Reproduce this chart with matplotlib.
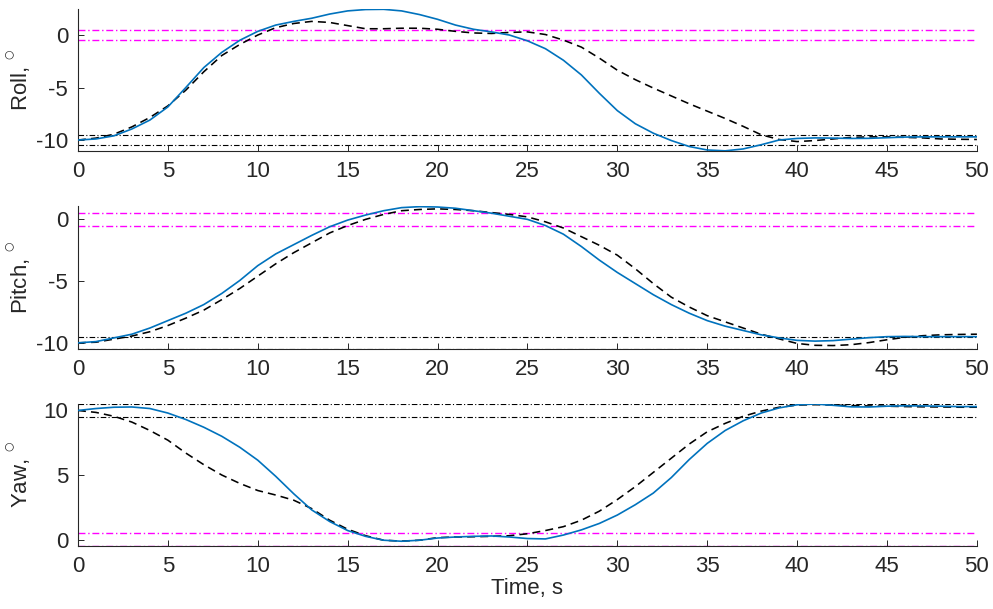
import numpy as np
import matplotlib
matplotlib.use('Agg')
import matplotlib.pyplot as plt

plt.rcParams['font.family'] = ['Liberation Sans', 'DejaVu Sans']
plt.rcParams['mathtext.fontset'] = 'dejavusans'
plt.rcParams['axes.unicode_minus'] = False

# time samples, s
t = np.arange(0, 51)

# roll, deg
roll_act = [-10.0, -9.9, -9.6, -8.95, -8.1, -6.85, -5.0, -3.1, -1.65, -0.5, 0.35, 0.95, 1.3, 1.6, 2.0, 2.3,
            2.43, 2.45, 2.3, 1.95, 1.5, 0.95, 0.55, 0.3, 0.0, -0.55, -1.3, -2.4, -3.8, -5.55, -7.2, -8.45,
            -9.35, -10.05, -10.62, -10.95, -11.03, -10.85, -10.45, -10.0, -9.85, -9.8, -9.82, -9.85, -9.84,
            -9.78, -9.72, -9.7, -9.7, -9.7, -9.7]
roll_ref = [-10.0, -9.82, -9.45, -8.75, -7.85, -6.75, -5.25, -3.5, -1.95, -0.9, 0.0, 0.7, 1.1, 1.3, 1.2, 0.9,
            0.6, 0.6, 0.65, 0.65, 0.55, 0.35, 0.2, 0.15, 0.25, 0.3, 0.05, -0.48, -1.15, -2.2, -3.35, -4.25,
            -5.05, -5.8, -6.55, -7.25, -7.95, -8.7, -9.5, -9.95, -10.15, -10.05, -9.9, -9.75, -9.7, -9.7,
            -9.75, -9.8, -9.9, -9.93, -9.95]

# pitch, deg
pitch_act = [-10.0, -9.9, -9.6, -9.3, -8.8, -8.2, -7.6, -6.9, -6.0, -4.95, -3.75, -2.8, -2.05, -1.3, -0.6,
             -0.06, 0.35, 0.7, 0.95, 1.03, 1.0, 0.9, 0.7, 0.5, 0.25, 0.0, -0.5, -1.2, -2.2, -3.3, -4.3,
             -5.2, -6.1, -6.9, -7.6, -8.2, -8.65, -9.0, -9.35, -9.6, -9.8, -9.86, -9.82, -9.7, -9.58,
             -9.5, -9.48, -9.5, -9.5, -9.5, -9.5]
pitch_ref = [-10.0, -9.95, -9.7, -9.45, -9.1, -8.6, -8.0, -7.35, -6.5, -5.6, -4.6, -3.6, -2.7, -1.9, -1.1,
             -0.5, 0.0, 0.4, 0.7, 0.8, 0.85, 0.8, 0.7, 0.55, 0.4, 0.2, -0.2, -0.7, -1.4, -2.1, -2.9,
             -4.0, -5.2, -6.3, -7.1, -7.8, -8.3, -8.8, -9.3, -9.68, -10.05, -10.2, -10.22, -10.15, -9.98,
             -9.75, -9.55, -9.42, -9.35, -9.32, -9.3]

# yaw, deg
yaw_act = [10.0, 10.15, 10.25, 10.27, 10.15, 9.8, 9.3, 8.7, 8.0, 7.15, 6.15, 4.9, 3.55, 2.3, 1.4, 0.7,
           0.25, -0.05, -0.13, -0.05, 0.12, 0.2, 0.25, 0.28, 0.2, 0.08, 0.05, 0.35, 0.75, 1.25, 1.9,
           2.7, 3.6, 4.8, 6.2, 7.45, 8.45, 9.2, 9.8, 10.2, 10.44, 10.5, 10.4, 10.28, 10.27, 10.33,
           10.36, 10.35, 10.33, 10.3, 10.3]
yaw_ref = [10.0, 9.85, 9.55, 9.1, 8.45, 7.7, 6.7, 5.8, 5.0, 4.35, 3.8, 3.45, 3.05, 2.4, 1.5, 0.8,
           0.3, -0.05, -0.12, -0.05, 0.15, 0.2, 0.22, 0.25, 0.3, 0.45, 0.7, 1.0, 1.5, 2.2, 3.1,
           4.1, 5.2, 6.3, 7.4, 8.35, 9.0, 9.55, 9.95, 10.25, 10.42, 10.45, 10.42, 10.38, 10.35,
           10.33, 10.3, 10.28, 10.27, 10.25, 10.25]

# start / target bands (+-0.5 deg)
labels = ['Roll', 'Pitch', 'Yaw']
start_vals = [-10, -10, 10]
target_vals = [0, 0, 0]
ylims = [(-11.05, 2.48), (-10.5, 1.08), (-0.5, 10.5)]
yticks = [[-10, -5, 0], [-10, -5, 0], [0, 5, 10]]

act = [roll_act, pitch_act, yaw_act]
ref = [roll_ref, pitch_ref, yaw_ref]

fig = plt.figure(figsize=(9.93, 6.09), dpi=100)
boxes = [(0.0785, 0.752, 0.9053, 0.2332),
         (0.0785, 0.4269, 0.9053, 0.2348),
         (0.0785, 0.1034, 0.9053, 0.2332)]

dashdot = (0, (5, 2, 1, 2))
axc = '#262626'

for i in range(3):
    ax = fig.add_axes(boxes[i])
    for d in (-0.5, 0.5):
        ax.axhline(target_vals[i] + d, color='#ff00ff', lw=1.0, ls=dashdot, zorder=1)
        ax.axhline(start_vals[i] + d, color='k', lw=0.8, ls=dashdot, zorder=1)
    ax.plot(t, act[i], color='#0072bd', lw=1.2, zorder=3)
    ax.plot(t, ref[i], color='k', lw=1.15, ls=(0, (5, 3.2)), zorder=2)
    ax.set_xlim(0, 50)
    ax.set_ylim(*ylims[i])
    ax.set_xticks(np.arange(0, 51, 5))
    ax.set_yticks(yticks[i])
    ax.spines['top'].set_visible(False)
    ax.spines['right'].set_visible(False)
    for s in ('left', 'bottom'):
        ax.spines[s].set_color(axc)
        ax.spines[s].set_linewidth(0.8)
    ax.tick_params(direction='in', length=4, width=0.7, colors=axc, labelsize=16, pad=7)
    ax.set_ylabel(labels[i] + r', $^{^{\bigcirc}}$', fontsize=16, color=axc)
    ax.yaxis.set_label_coords(-0.050, 0.5)

ax.set_xlabel('Time, s', fontsize=16, color=axc, labelpad=1)

fig.savefig('out.png', dpi=100)
